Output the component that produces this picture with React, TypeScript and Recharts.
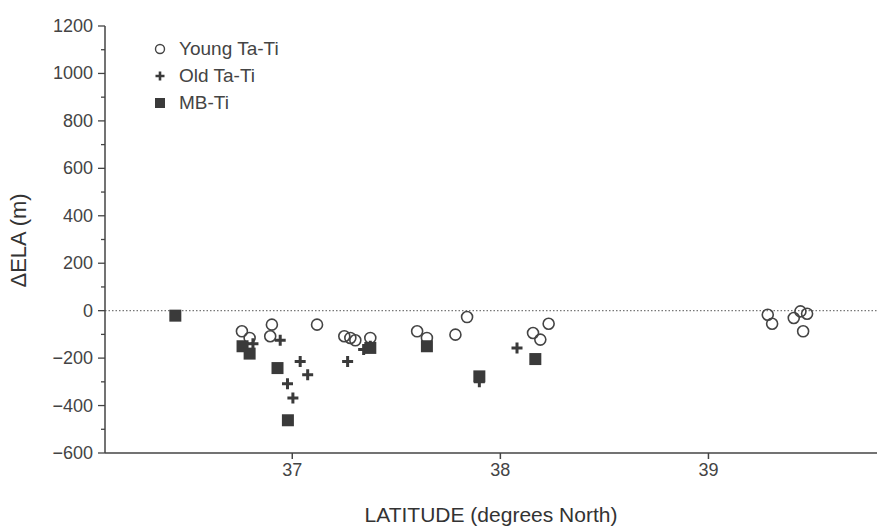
import React from "react";
import {
  ScatterChart,
  Scatter,
  XAxis,
  YAxis,
  ReferenceLine,
  Legend,
} from "recharts";

// latitude (deg N) / ΔELA (m)
const youngTaTi = [
  { lat: 36.758, dela: -87 },
  { lat: 36.795, dela: -115 },
  { lat: 36.902, dela: -59 },
  { lat: 36.894, dela: -108 },
  { lat: 37.119, dela: -59 },
  { lat: 37.25, dela: -108 },
  { lat: 37.279, dela: -115 },
  { lat: 37.303, dela: -125 },
  { lat: 37.375, dela: -115 },
  { lat: 37.6, dela: -87 },
  { lat: 37.647, dela: -115 },
  { lat: 37.784, dela: -101 },
  { lat: 37.84, dela: -27 },
  { lat: 38.157, dela: -94 },
  { lat: 38.192, dela: -122 },
  { lat: 38.232, dela: -55 },
  { lat: 39.285, dela: -17 },
  { lat: 39.306, dela: -55 },
  { lat: 39.41, dela: -31 },
  { lat: 39.442, dela: -3 },
  { lat: 39.474, dela: -13 },
  { lat: 39.455, dela: -87 },
];

const oldTaTi = [
  { lat: 36.811, dela: -139 },
  { lat: 36.942, dela: -125 },
  { lat: 37.038, dela: -214 },
  { lat: 37.074, dela: -270 },
  { lat: 36.977, dela: -308 },
  { lat: 37.003, dela: -368 },
  { lat: 37.266, dela: -214 },
  { lat: 37.343, dela: -164 },
  { lat: 37.375, dela: -150 },
  { lat: 37.899, dela: -300 },
  { lat: 38.08, dela: -157 },
];

const mbTi = [
  { lat: 36.438, dela: -21 },
  { lat: 36.761, dela: -150 },
  { lat: 36.795, dela: -181 },
  { lat: 36.929, dela: -242 },
  { lat: 36.979, dela: -462 },
  { lat: 37.375, dela: -157 },
  { lat: 37.647, dela: -150 },
  { lat: 37.899, dela: -277 },
  { lat: 38.168, dela: -204 },
];

const xTicks = [37, 38, 39];
const yTicks = [-600, -500, -400, -300, -200, -100, 0, 100, 200, 300, 400, 500, 600, 700, 800, 900, 1000, 1100, 1200];

const INK = "#444";
const FONT = "'Liberation Sans', Arial, sans-serif";

const OpenCircle = (props: any) => (
  <circle cx={props.cx} cy={props.cy} r={5.5} fill="none" stroke={INK} strokeWidth={1.6} />
);

const Plus = (props: any) => {
  const { cx, cy } = props;
  return (
    <path
      d={`M${cx - 5.5},${cy}H${cx + 5.5}M${cx},${cy - 5.5}V${cy + 5.5}`}
      stroke="#3a3a3a"
      strokeWidth={3}
    />
  );
};

const Square = (props: any) => (
  <rect x={props.cx - 6} y={props.cy - 6} width={12} height={12} fill="#3a3a3a" />
);

const YTick = (props: any) => {
  const { y, payload } = props;
  const major = payload.value % 200 === 0;
  return (
    <g>
      <line x1={major ? 98 : 101} x2={105} y1={y} y2={y} stroke={INK} strokeWidth={1.3} />
      {major && (
        <text x={93} y={y} dy={6} textAnchor="end" fill={INK} fontSize={18} fontFamily={FONT}>
          {payload.value < 0 ? `\u2212${-payload.value}` : payload.value}
        </text>
      )}
    </g>
  );
};

const legendItems = [
  { label: "Young Ta-Ti", icon: <circle cx={8} cy={8} r={4.5} fill="none" stroke={INK} strokeWidth={1.4} /> },
  { label: "Old Ta-Ti", icon: <path d="M3.5,8H12.5M8,3.5V12.5" stroke="#3a3a3a" strokeWidth={2.6} /> },
  { label: "MB-Ti", icon: <rect x={3} y={3} width={10} height={10} fill="#3a3a3a" /> },
];

const LegendBox = () => (
  <div style={{ fontFamily: FONT, fontSize: 19, color: INK }}>
    {legendItems.map((it) => (
      <div key={it.label} style={{ display: "flex", alignItems: "center", height: 27 }}>
        <svg width={16} height={16} style={{ marginRight: 11 }}>
          {it.icon}
        </svg>
        <span>{it.label}</span>
      </div>
    ))}
  </div>
);

export default function App() {
  return (
    <div style={{ position: "absolute", left: 0, top: 0, background: "#fff" }}>
      <ScatterChart
        width={878}
        height={527}
        margin={{ top: 26, right: 1, bottom: 0, left: 0 }}
      >
        <XAxis
          type="number"
          dataKey="lat"
          domain={[36.1, 39.81]}
          ticks={xTicks}
          allowDataOverflow
          height={74}
          stroke={INK}
          strokeWidth={1.5}
          tickSize={6}
          tickMargin={4}
          tick={{ fill: INK, fontSize: 18, fontFamily: FONT }}
          label={{
            value: "LATITUDE (degrees North)",
            position: "insideBottom",
            offset: 5,
            fill: "#333",
            fontSize: 21,
            fontFamily: FONT,
          }}
        />
        <XAxis xAxisId="top" orientation="top" type="number" domain={[36.1, 39.81]} height={0} tick={false} tickLine={false} stroke={INK} strokeWidth={1.5} />
        <YAxis
          type="number"
          dataKey="dela"
          domain={[-600, 1200]}
          ticks={yTicks}
          interval={0}
          width={105}
          stroke={INK}
          strokeWidth={1.5}
          tickLine={false}
          tick={<YTick />}
          label={{
            value: "\u0394ELA (m)",
            angle: -90,
            position: "insideLeft",
            offset: 18,
            dy: 48,
            fill: "#333",
            fontSize: 22,
            fontFamily: FONT,
          }}
        />
        <YAxis yAxisId="right" orientation="right" type="number" domain={[-600, 1200]} width={0} tick={false} tickLine={false} stroke={INK} strokeWidth={1.5} />
        <ReferenceLine y={0} stroke="#777" strokeDasharray="1.5 2" strokeWidth={1.2} />
        <Legend
          layout="vertical"
          align="center"
          verticalAlign="middle"
          content={<LegendBox />}
          wrapperStyle={{ left: 152, top: 35, width: "auto", height: "auto" }}
        />
        <Scatter name="Young Ta-Ti" data={youngTaTi} shape={<OpenCircle />} isAnimationActive={false} />
        <Scatter name="Old Ta-Ti" data={oldTaTi} shape={<Plus />} isAnimationActive={false} />
        <Scatter name="MB-Ti" data={mbTi} shape={<Square />} isAnimationActive={false} />
      </ScatterChart>
    </div>
  );
}
